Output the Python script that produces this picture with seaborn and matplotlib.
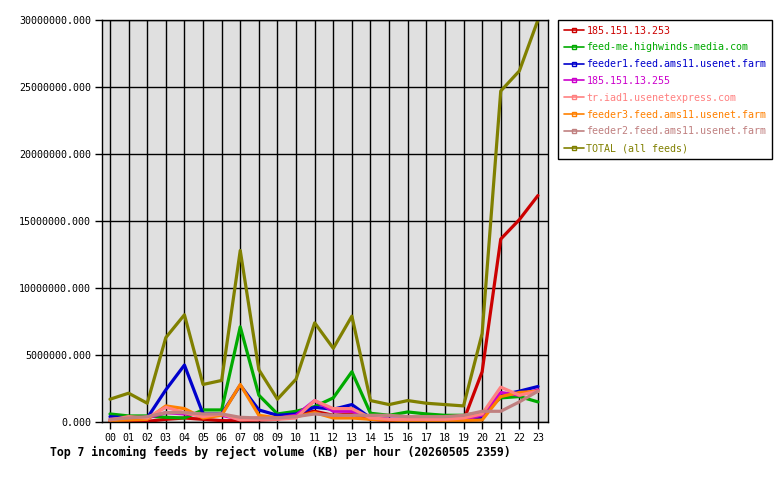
import matplotlib
matplotlib.use("Agg")
import matplotlib.pyplot as plt
import matplotlib.ticker as mticker
from matplotlib.lines import Line2D
import seaborn as sns
import pandas as pd

hours = ["00", "01", "02", "03", "04", "05", "06", "07", "08", "09", "10", "11",
         "12", "13", "14", "15", "16", "17", "18", "19", "20", "21", "22", "23"]

feed_names = ["185.151.13.253", "feed-me.highwinds-media.com", "feeder1.feed.ams11.usenet.farm",
              "185.151.13.255", "tr.iad1.usenetexpress.com", "feeder3.feed.ams11.usenet.farm",
              "feeder2.feed.ams11.usenet.farm", "TOTAL (all feeds)"]

v_185_253 = [0.05e6, 0.05e6, 0.05e6, 0.2e6, 0.3e6, 0.2e6, 0.1e6, 0.1e6, 0.15e6, 0.2e6, 0.6e6, 0.8e6,
             0.5e6, 0.6e6, 0.2e6, 0.1e6, 0.1e6, 0.1e6, 0.1e6, 0.1e6, 3.75e6, 13.65e6, 15.1e6, 16.9e6]
v_feedme = [0.6e6, 0.45e6, 0.45e6, 0.35e6, 0.3e6, 0.9e6, 0.9e6, 7.1e6, 2.0e6, 0.6e6, 0.8e6, 1.15e6,
            1.8e6, 3.75e6, 0.65e6, 0.5e6, 0.75e6, 0.6e6, 0.5e6, 0.5e6, 0.7e6, 1.8e6, 1.9e6, 1.5e6]
v_feeder1 = [0.4e6, 0.3e6, 0.3e6, 2.4e6, 4.25e6, 0.6e6, 0.6e6, 2.75e6, 0.9e6, 0.5e6, 0.6e6, 1.1e6,
             0.95e6, 1.3e6, 0.3e6, 0.2e6, 0.2e6, 0.2e6, 0.2e6, 0.2e6, 0.3e6, 2.0e6, 2.3e6, 2.65e6]
v_185_255 = [0.2e6, 0.3e6, 0.3e6, 0.7e6, 0.6e6, 0.5e6, 0.5e6, 0.2e6, 0.3e6, 0.3e6, 0.5e6, 1.6e6,
             0.8e6, 0.8e6, 0.3e6, 0.2e6, 0.2e6, 0.2e6, 0.2e6, 0.2e6, 0.5e6, 2.2e6, 2.0e6, 2.4e6]
v_triad1 = [0.15e6, 0.4e6, 0.3e6, 1.1e6, 0.7e6, 0.4e6, 0.6e6, 0.15e6, 0.2e6, 0.2e6, 0.3e6, 1.6e6,
            1.0e6, 1.0e6, 0.3e6, 0.2e6, 0.2e6, 0.2e6, 0.2e6, 0.3e6, 0.6e6, 2.6e6, 2.0e6, 2.3e6]
v_feeder3 = [0.1e6, 0.15e6, 0.2e6, 1.2e6, 1.0e6, 0.3e6, 0.5e6, 2.8e6, 0.5e6, 0.3e6, 0.4e6, 0.7e6,
             0.3e6, 0.3e6, 0.2e6, 0.15e6, 0.1e6, 0.1e6, 0.1e6, 0.1e6, 0.15e6, 1.9e6, 2.2e6, 2.3e6]
v_feeder2 = [0.2e6, 0.3e6, 0.4e6, 0.7e6, 0.7e6, 0.6e6, 0.6e6, 0.35e6, 0.3e6, 0.3e6, 0.4e6, 0.6e6,
             0.5e6, 0.5e6, 0.5e6, 0.5e6, 0.4e6, 0.4e6, 0.4e6, 0.5e6, 0.8e6, 0.8e6, 1.5e6, 2.3e6]
v_total = [1.7e6, 2.15e6, 1.4e6, 6.3e6, 8.0e6, 2.8e6, 3.1e6, 12.8e6, 3.9e6, 1.7e6, 3.2e6, 7.4e6,
           5.5e6, 7.9e6, 1.6e6, 1.3e6, 1.6e6, 1.4e6, 1.3e6, 1.2e6, 6.6e6, 24.7e6, 26.2e6, 30.0e6]

series = [v_185_253, v_feedme, v_feeder1, v_185_255, v_triad1, v_feeder3, v_feeder2, v_total]
colors = ["#cc0000", "#00aa00", "#0000cc", "#cc00cc", "#ff8080", "#ff8000", "#c08080", "#808000"]

rows = []
for name, vals in zip(feed_names, series):
    for i, v in enumerate(vals):
        rows.append({"hour": i, "feed": name, "value": v})
df = pd.DataFrame(rows)

sns.set_theme(style="white")
plt.rcParams["font.family"] = ["DejaVu Sans Mono"]

fig = plt.figure(figsize=(7.8, 4.8), dpi=100)
ax = fig.add_axes([102 / 780, 58 / 480, 446 / 780, 402 / 480])
ax.set_facecolor("#e0e0e0")

draw_order = ["185.151.13.253", "feed-me.highwinds-media.com", "feeder1.feed.ams11.usenet.farm",
              "185.151.13.255", "feeder3.feed.ams11.usenet.farm", "tr.iad1.usenetexpress.com",
              "feeder2.feed.ams11.usenet.farm", "TOTAL (all feeds)"]
pal = dict(zip(feed_names, colors))
sns.lineplot(data=df, x="hour", y="value", hue="feed", hue_order=draw_order, palette=pal,
             linewidth=2.3, ax=ax, legend=False, estimator=None)

ax.set_xlim(-0.43, 23.54)
ax.set_ylim(0, 30e6)
ax.set_xticks(range(24))
ax.set_xticklabels(hours)
ax.set_yticks([0, 5e6, 10e6, 15e6, 20e6, 25e6, 30e6])
ax.yaxis.set_major_formatter(mticker.FuncFormatter(lambda v, p: "%.3f" % v))
ax.grid(True, color="black", linewidth=1)
ax.set_axisbelow(True)
for s in ax.spines.values():
    s.set_color("black")
    s.set_linewidth(1)
ax.tick_params(axis="both", direction="out", length=5, width=1, color="black",
               labelsize=7.2, labelcolor="black", pad=3, bottom=True, left=True)
ax.set_xlabel("")
ax.set_ylabel("")

handles = [Line2D([0], [0], color=c, linewidth=1.2, marker="s", markersize=3,
                  markerfacecolor="none", markeredgecolor=c) for c in colors]
leg = fig.legend(handles, feed_names, loc="upper left", bbox_to_anchor=(558 / 780, 1 - 20 / 480),
                 frameon=True, fancybox=False, framealpha=1, edgecolor="black", fontsize=7.2,
                 handlelength=2.0, handletextpad=0.3, borderpad=0.55, labelspacing=0.68,
                 borderaxespad=0)
leg.get_frame().set_linewidth(1)
for t, c in zip(leg.get_texts(), colors):
    t.set_color(c)

fig.text(50 / 780, 1 - 452 / 480, "Top 7 incoming feeds by reject volume (KB) per hour (20260505 2359)",
         fontsize=8.3, fontweight="bold", color="black", va="center", ha="left")

fig.savefig("out.png", dpi=100, facecolor="white")
